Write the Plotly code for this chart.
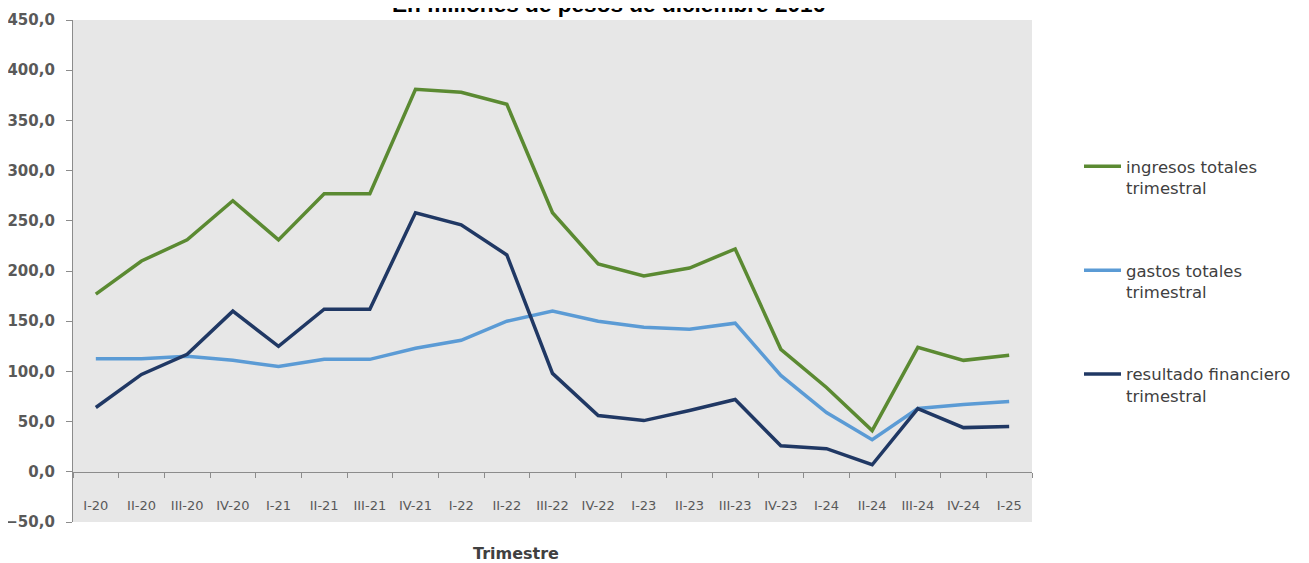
import plotly.graph_objects as go

categorias = ["I-20", "II-20", "III-20", "IV-20", "I-21", "II-21", "III-21", "IV-21",
              "I-22", "II-22", "III-22", "IV-22", "I-23", "II-23", "III-23", "IV-23",
              "I-24", "II-24", "III-24", "IV-24", "I-25"]

ingresos = [177, 210, 231, 270, 231, 277, 277, 381, 378, 366, 258, 207, 195, 203, 222,
            122, 84, 41, 124, 111, 116]
gastos = [112.5, 112.5, 115, 111, 105, 112, 112, 123, 131, 150, 160, 150, 144, 142, 148,
          96, 59, 32, 63, 67, 70]
resultado = [64, 97, 117, 160, 125, 162, 162, 258, 246, 216, 98, 56, 51, 61, 72,
             26, 23, 7, 63, 44, 45]

series = [
    ("ingresos totales<br>trimestral", ingresos, "#5B8A32"),
    ("gastos totales<br>trimestral", gastos, "#5B9BD5"),
    ("resultado financiero<br>trimestral", resultado, "#203864"),
]

fig = go.Figure()
for i, (nombre, vals, color) in enumerate(series):
    fig.add_trace(go.Scatter(
        x=categorias, y=vals, mode="lines", name=nombre,
        line=dict(color=color, width=3.5), legendgroup=f"g{i}",
    ))

OFF = 8  # page body margin
W, H = 1301, 555
L, R, T, B = 65, 277, 12, 41
pw, ph = W - L - R, H - T - B

def py(p):  # page pixel -> paper fraction
    return (H - B - (p - OFF)) / ph

def px(p):
    return ((p - OFF) - L) / pw

fig.update_layout(
    width=W, height=H,
    margin=dict(l=L, r=R, t=T, b=B, pad=0, autoexpand=False),
    paper_bgcolor="white",
    plot_bgcolor="#E7E7E7",
    separators=",.",
    showlegend=True,
    legend=dict(
        x=px(1079), xanchor="left", y=py(149), yanchor="top",
        font=dict(family="DejaVu Sans", size=16.5, color="#404040"),
        tracegroupgap=58, valign="top", bgcolor="rgba(0,0,0,0)",
        itemwidth=37,
    ),
    xaxis=dict(
        type="category", range=[-0.5, 20.5], anchor="free", position=0.1,
        showline=True, linecolor="#8C8C8C", linewidth=1.3,
        ticks="outside", tickson="boundaries", ticklen=5, tickcolor="#8C8C8C",
        tickfont=dict(family="DejaVu Sans", size=13, color="#595959"),
        ticklabelstandoff=21, automargin=False,
        showgrid=False, zeroline=False, fixedrange=True,
    ),
    yaxis=dict(
        range=[-50, 450], dtick=50, tick0=0, tickformat=".1f",
        showline=True, linecolor="#8C8C8C", linewidth=1.3,
        ticks="outside", ticklen=6, tickcolor="#8C8C8C",
        tickfont=dict(family="DejaVu Sans", size=15, color="#595959", weight="bold"),
        ticklabelstandoff=8, automargin=False,
        showgrid=False, zeroline=False, fixedrange=True,
    ),
    annotations=[
        dict(text="<b>En millones de pesos de diciembre 2016</b>", xref="paper", yref="paper",
             x=px(608.5), y=py(19), xanchor="center", yanchor="bottom", showarrow=False,
             font=dict(family="Liberation Sans", size=22.6, color="#000000")),
        dict(text="<b>Trimestre</b>", xref="paper", yref="paper",
             x=px(516), y=py(553), xanchor="center", yanchor="middle", showarrow=False,
             font=dict(family="DejaVu Sans", size=16, color="#404040")),
    ],
)

fig.write_html("out.html")
